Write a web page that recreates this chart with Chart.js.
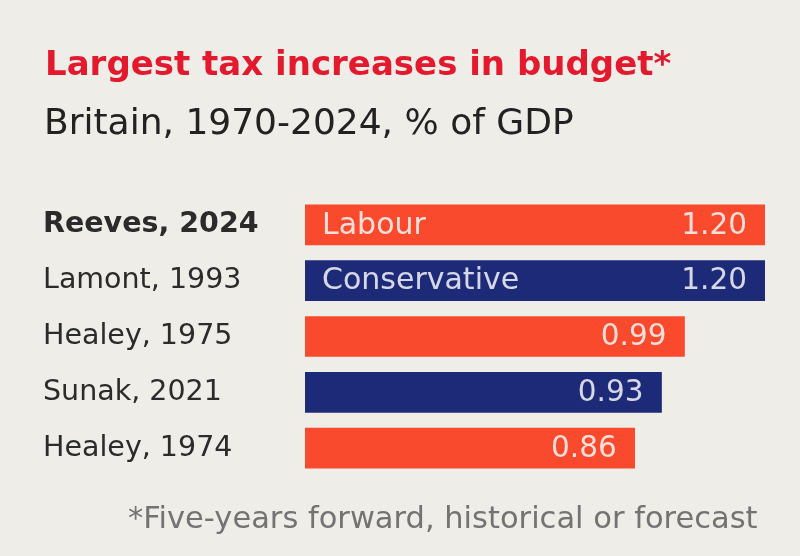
<!DOCTYPE html>
<html>
<head>
<meta charset="utf-8">
<script src="https://cdn.jsdelivr.net/npm/chart.js@4.4.1/dist/chart.umd.min.js"></script>
<style>
  html, body { margin: 0; padding: 0; background: #eeede8; }
  #wrap { position: relative; width: 800px; height: 556px; }
</style>
</head>
<body>
<div id="wrap"><canvas id="c"></canvas></div>
<script>
const titleText = 'Largest tax increases in budget*';
const subtitleText = 'Britain, 1970-2024, % of GDP';
const footnoteText = '*Five-years forward, historical or forecast';

const names = ['Reeves, 2024', 'Lamont, 1993', 'Healey, 1975', 'Sunak, 2021', 'Healey, 1974'];
const values = [1.20, 1.20, 0.99, 0.93, 0.86];
const parties = ['Labour', 'Conservative', 'Labour', 'Conservative', 'Labour'];
const barTags = ['Labour', 'Conservative', '', '', ''];

const partyColors = { Labour: '#fa4a2e', Conservative: '#1d2a78' };
const FONT = '"DejaVu Sans", sans-serif';

const textPlugin = {
  id: 'texts',
  beforeDraw(chart) {
    const ctx = chart.ctx;
    ctx.save();
    ctx.fillStyle = '#eeede8';
    ctx.fillRect(0, 0, chart.width, chart.height);
    ctx.restore();
  },
  afterDraw(chart) {
    const ctx = chart.ctx;
    ctx.save();
    ctx.textBaseline = 'alphabetic';
    ctx.textAlign = 'left';
    ctx.fillStyle = '#e3192d';
    ctx.font = 'bold 34px ' + FONT;
    ctx.fillText(titleText, 45, 75);
    ctx.fillStyle = '#222222';
    ctx.font = '36px ' + FONT;
    ctx.fillText(subtitleText, 44, 134);
    ctx.fillStyle = '#737373';
    ctx.font = '30.5px ' + FONT;
    ctx.fillText(footnoteText, 128, 528);
    ctx.restore();
  }
};

const barLabelPlugin = {
  id: 'barLabels',
  afterDatasetsDraw(chart) {
    const ctx = chart.ctx;
    const meta = chart.getDatasetMeta(0);
    ctx.save();
    ctx.textBaseline = 'middle';
    meta.data.forEach((el, i) => {
      ctx.fillStyle = 'rgba(255,255,255,0.82)';
      const left = Math.min(el.base, el.x);
      const right = Math.max(el.base, el.x);
      if (barTags[i]) {
        ctx.font = '30px ' + FONT;
        ctx.textAlign = 'left';
        ctx.fillText(barTags[i], left + 17, el.y + 1);
      }
      ctx.font = '29.5px ' + FONT;
      ctx.textAlign = 'right';
      ctx.fillText(values[i].toFixed(2), right - 18, el.y + 1);
    });
    ctx.restore();
  }
};

new Chart(document.getElementById('c'), {
  type: 'bar',
  data: {
    labels: names,
    datasets: [{
      data: values,
      backgroundColor: parties.map(p => partyColors[p]),
      borderWidth: 0,
      barThickness: 40
    }]
  },
  options: {
    indexAxis: 'y',
    responsive: true,
    maintainAspectRatio: false,
    animation: false,
    layout: { padding: { left: 43, right: 35, top: 197, bottom: 80 } },
    plugins: {
      legend: { display: false },
      tooltip: { enabled: false },
      title: { display: false }
    },
    scales: {
      x: {
        display: false,
        min: 0,
        max: 1.2
      },
      y: {
        grid: { display: false, drawTicks: false },
        border: { display: false },
        afterFit(scale) { scale.width = 262; },
        ticks: {
          crossAlign: 'far',
          padding: 0,
          color: '#2b2b2b',
          font: (c) => ({ family: FONT, size: 28.5, weight: c.index === 0 ? 'bold' : 'normal' })
        }
      }
    }
  },
  plugins: [textPlugin, barLabelPlugin]
});
</script>
</body>
</html>
